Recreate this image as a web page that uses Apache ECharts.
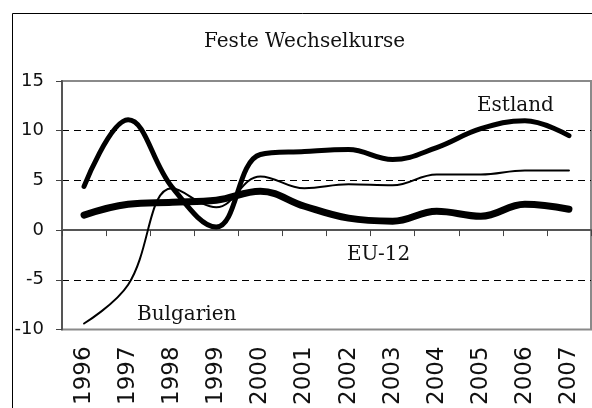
<!DOCTYPE html>
<html>
<head>
<meta charset="utf-8">
<script src="https://cdn.jsdelivr.net/npm/echarts@6/dist/echarts.min.js"></script>
<style>
  html, body { margin: 0; padding: 0; background: #fff; }
  #chart { width: 592px; height: 408px; }
</style>
</head>
<body>
<div id="chart"></div>
<script>
// Jahre (x-Achse)
const years = ['1996', '1997', '1998', '1999', '2000', '2001', '2002', '2003', '2004', '2005', '2006', '2007'];
// Werte
const estland = [4.4, 11.1, 4.3, 0.3, 7.6, 7.9, 8.1, 7.1, 8.3, 10.2, 11.0, 9.5];
const eu12 = [1.5, 2.6, 2.8, 3.0, 3.9, 2.4, 1.2, 0.9, 1.9, 1.4, 2.6, 2.1];
const bulgarien = [-9.4, -5.5, 4.2, 2.3, 5.4, 4.2, 4.6, 4.5, 5.6, 5.6, 6.0, 6.0];
const yTicks = [-10, -5, 0, 5, 10, 15];

const chart = echarts.init(document.getElementById('chart'));

const serif = 'DejaVu Serif';
const sans = 'DejaVu Sans';

function lineSeries(name, data, width) {
  return {
    name: name,
    type: 'line',
    data: data,
    smooth: 0.4,
    showSymbol: false,
    xAxisIndex: 0,
    lineStyle: { color: '#000', width: width, cap: 'round' },
    itemStyle: { color: '#000' },
  };
}

chart.setOption({
  animation: false,
  title: {
    text: 'Feste Wechselkurse',
    left: 199,
    top: 27,
    textStyle: { fontFamily: serif, fontSize: 20, fontWeight: 'normal', color: '#111' },
  },
  grid: {
    left: 62,
    top: 81,
    right: 1,
    bottom: 65,
    show: true,
    borderColor: '#8a8a8a',
    borderWidth: 2,
  },
  xAxis: [
    {
      type: 'category',
      data: years,
      boundaryGap: true,
      axisLine: { onZero: true, lineStyle: { color: '#555', width: 2 } },
      axisTick: { show: true, interval: 0, length: 6, lineStyle: { color: '#444', width: 1 } },
      axisLabel: { show: false },
      splitLine: { show: false },
    },
    {
      type: 'category',
      data: years,
      position: 'bottom',
      boundaryGap: true,
      axisLine: { show: false, onZero: false },
      axisTick: { show: false },
      axisLabel: {
        rotate: 90,
        interval: 0,
        margin: 17,
        fontFamily: sans,
        fontSize: 23,
        color: '#111',
      },
    },
  ],
  yAxis: {
    type: 'value',
    min: yTicks[0],
    max: yTicks[yTicks.length - 1],
    interval: 5,
    axisLine: { show: true, lineStyle: { color: '#555', width: 2 } },
    axisTick: { show: true, length: 6, lineStyle: { color: '#444', width: 1 } },
    axisLabel: { margin: 18, fontFamily: sans, fontSize: 18, color: '#111' },
    splitLine: {
      show: true,
      showMinLine: false,
      showMaxLine: false,
      lineStyle: { color: '#000', type: [7, 5], width: 1 },
    },
  },
  series: [
    lineSeries('Bulgarien', bulgarien, 2),
    lineSeries('Estland', estland, 5),
    lineSeries('EU-12', eu12, 7),
  ],
  graphic: [
    {
      type: 'rect',
      shape: { x: 12.5, y: 13.5, width: 620, height: 440 },
      style: { fill: 'none', stroke: '#000', lineWidth: 1 },
      silent: true,
    },
    {
      type: 'text',
      left: 477,
      top: 96,
      style: { text: 'Estland', fontFamily: serif, fontSize: 20, fill: '#111' },
    },
    {
      type: 'text',
      left: 347,
      top: 245,
      style: { text: 'EU-12', fontFamily: serif, fontSize: 20, fill: '#111' },
    },
    {
      type: 'text',
      left: 137,
      top: 305,
      style: { text: 'Bulgarien', fontFamily: serif, fontSize: 20, fill: '#111' },
    },
  ],
});
</script>
</body>
</html>
